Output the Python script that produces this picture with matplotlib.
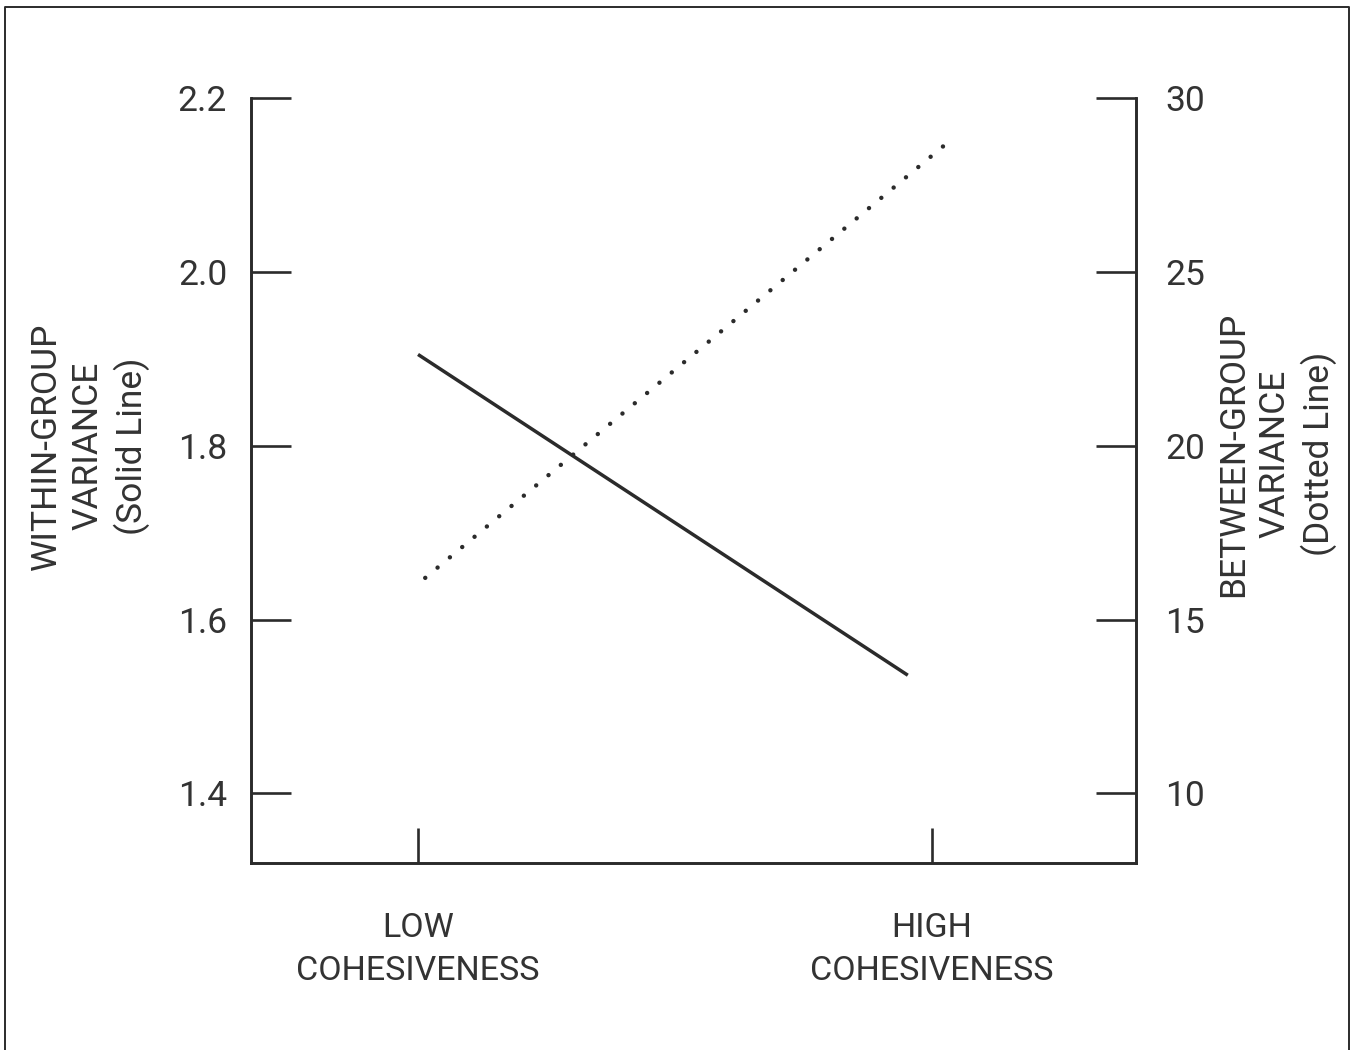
import matplotlib.pyplot as plt
from matplotlib.lines import Line2D

# fonts: condensed look if available, else fall back
plt.rcParams['font.family'] = ['Roboto', 'DejaVu Sans']

# data
groups = ["LOW\nCOHESIVENESS", "HIGH\nCOHESIVENESS"]
group_pos = [0, 1]
within_x = [0.0, 0.953]
within_var = [1.905, 1.536]
between_x = [0.014, 1.025]
between_var = [16.2, 28.65]

left_ticks = [1.4, 1.6, 1.8, 2.0, 2.2]
right_ticks = [10, 15, 20, 25, 30]

ink = "#2b2b2b"
txt = "#333333"
fs = 25.5

fig = plt.figure(figsize=(13.55, 10.5), dpi=100)
ax = fig.add_axes([251 / 1355, 1 - 863 / 1050, 885 / 1355, 765 / 1050])
ax2 = ax.twinx()

# solid line - within-group
ax.plot(within_x, within_var, color=ink, lw=2.5, solid_capstyle='butt')
# dotted line - between-group
ax2.plot(between_x, between_var, color=ink, lw=3.2,
         linestyle=(0, (0.01, 3.6)), dash_capstyle='round')

ax.set_xlim(-0.325, 1.397)
ax.set_ylim(1.32, 2.2)
ax2.set_ylim(8, 30)

ax.set_yticks(left_ticks)
ax.set_yticklabels([f"{t:.1f}" for t in left_ticks])
ax2.set_yticks(right_ticks)
ax2.set_yticklabels([str(t) for t in right_ticks])
ax.set_xticks(group_pos)
ax.set_xticklabels(groups, linespacing=1.45)

for a in (ax, ax2):
    a.spines['top'].set_visible(False)
    for s in ('left', 'right', 'bottom'):
        a.spines[s].set_linewidth(1.9)
        a.spines[s].set_color(ink)

ax.tick_params(axis='y', direction='in', length=28.8, width=1.9, color=ink,
               labelsize=fs, labelcolor=txt, pad=-2, right=False)
ax.tick_params(axis='x', direction='in', length=25, width=1.9, color=ink,
               labelsize=24.5, labelcolor=txt, pad=35)
ax2.tick_params(axis='y', direction='in', length=28.8, width=1.9, color=ink,
                labelsize=fs, labelcolor=txt, pad=-2)
# push labels out past the inward ticks
for lbl in ax.get_yticklabels():
    lbl.set_x(-0.03)
for lbl in ax2.get_yticklabels():
    lbl.set_x(1.036)

# axis titles, three lines each, rotated
fig.text(90 / 1355, 1 - 446 / 1050, "WITHIN-GROUP\nVARIANCE\n(Solid Line)",
         rotation=90, ha='center', va='center', fontsize=fs, color=txt,
         linespacing=1.33)
fig.text(1277 / 1355, 1 - 454 / 1050, "BETWEEN-GROUP\nVARIANCE\n(Dotted Line)",
         rotation=90, ha='center', va='center', fontsize=fs, color=txt,
         linespacing=1.33)

# frame round the figure (open at the bottom)
fx = [5 / 1355, 5 / 1355, 1349 / 1355, 1349 / 1355]
fy = [0, 1 - 7 / 1050, 1 - 7 / 1050, 0]
fig.add_artist(Line2D(fx, fy, transform=fig.transFigure, color=ink, lw=1.4))

fig.savefig("out.png", dpi=100, facecolor='white')
